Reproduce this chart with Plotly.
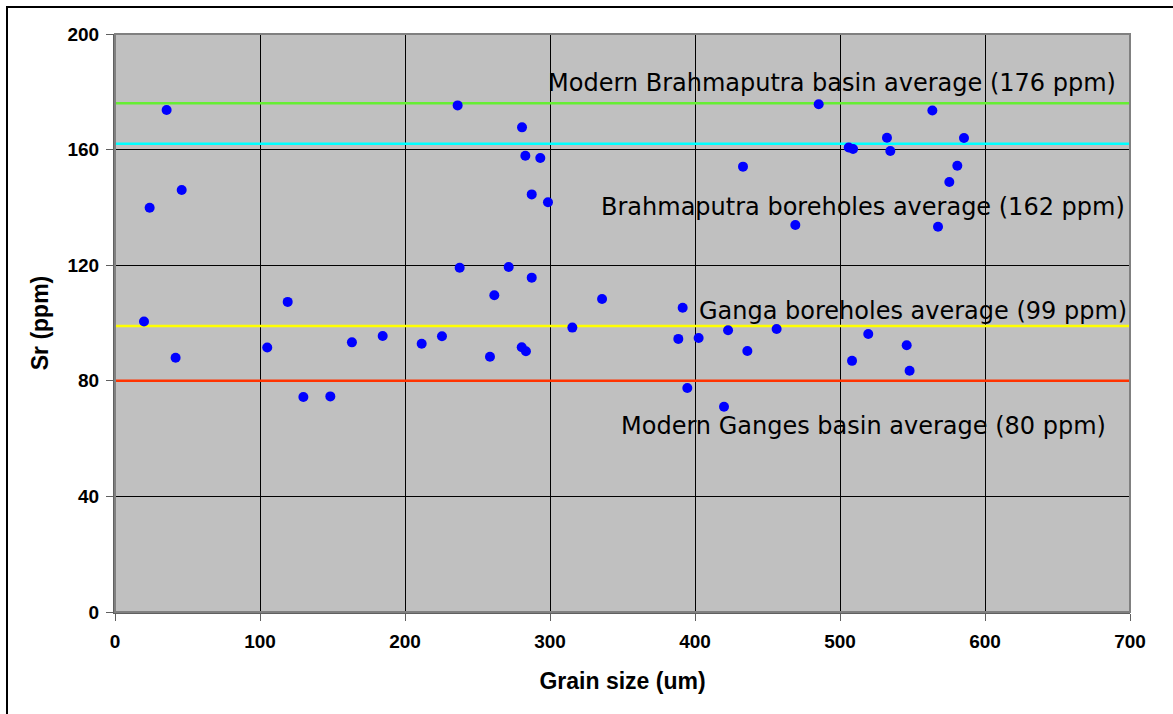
import plotly.graph_objects as go

# Grain size (um) and Sr concentration (ppm) of the samples
grain_size = [35.6, 46.0, 23.9, 20.0, 41.8, 105.0, 119.1, 129.9, 148.5, 163.4,
              184.6, 236.3, 280.7, 283.0, 293.3, 287.4, 298.6, 433.1, 237.7, 271.5,
              287.4, 261.6, 335.9, 211.5, 225.5, 258.6, 280.5, 283.4, 315.4, 391.5,
              388.5, 402.5, 394.7, 420.0, 422.8, 436.1, 456.3, 485.3, 563.7, 532.4,
              585.5, 506.0, 509.0, 534.7, 580.9, 575.4, 469.2, 567.6, 519.5, 546.0,
              508.3, 548.0]
sr_ppm = [173.7, 146.0, 139.9, 100.5, 88.0, 91.5, 107.3, 74.4, 74.6, 93.3,
          95.5, 175.3, 167.7, 157.9, 157.1, 144.5, 141.8, 154.1, 119.1, 119.4,
          115.7, 109.6, 108.3, 92.8, 95.4, 88.3, 91.6, 90.2, 98.4, 105.3,
          94.5, 94.8, 77.5, 71.0, 97.5, 90.3, 97.9, 175.7, 173.5, 164.1,
          164.0, 160.7, 160.2, 159.5, 154.4, 148.8, 133.9, 133.3, 96.2, 92.3,
          86.9, 83.5]

# Reference averages (ppm)
ref_names = ["Modern Brahmaputra basin average (176 ppm)",
             "Brahmaputra boreholes average (162 ppm)",
             "Ganga boreholes average (99 ppm)",
             "Modern Ganges basin average (80 ppm)"]
ref_values = [176, 162, 99, 80]
ref_colors = ["#66EE33", "#00FFFF", "#FFFF00", "#FF3300"]

x_ticks = [0, 100, 200, 300, 400, 500, 600, 700]
y_ticks = [0, 40, 80, 120, 160, 200]

fig = go.Figure()

# Horizontal reference lines spanning the x range
for name, val, col in zip(ref_names, ref_values, ref_colors):
    fig.add_trace(go.Scatter(x=[0, 700], y=[val, val], mode="lines",
                             line=dict(color=col, width=2.5),
                             showlegend=False, hoverinfo="skip"))

fig.add_trace(go.Scatter(x=grain_size, y=sr_ppm, mode="markers",
                         marker=dict(color="#0000FF", size=10, line=dict(width=0)),
                         showlegend=False))

# Text labels next to the reference lines
label_pos = [(692, 183), (698, 140), (699.5, 104), (685, 64.5)]
for name, (lx, ly) in zip(ref_names, label_pos):
    fig.add_annotation(x=lx, y=ly, text=name, showarrow=False, xanchor="right",
                       yanchor="middle",
                       font=dict(family="DejaVu Sans", size=24, color="#000000"))

axis_font = dict(family="Liberation Sans, Arial", size=19, color="#000000")
title_font = dict(family="Liberation Sans, Arial", size=23, color="#000000")
fig.update_xaxes(range=[0, 700], tickvals=x_ticks, ticktext=[f"<b>{v}</b>" for v in x_ticks],
                 tickfont=axis_font, showgrid=True, gridcolor="#000000", gridwidth=1,
                 showline=True, linecolor="#606060", linewidth=2, mirror=False,
                 ticks="outside", ticklen=7, tickcolor="#606060", zeroline=False,
                 ticklabelstandoff=4,
                 title=dict(text="<b>Grain size (um)</b>", font=title_font, standoff=22))
fig.update_yaxes(range=[0, 200], tickvals=y_ticks, ticktext=[f"<b>{v}</b>" for v in y_ticks],
                 tickfont=axis_font, showgrid=True, gridcolor="#000000", gridwidth=1,
                 showline=True, linecolor="#606060", linewidth=2, mirror=False,
                 ticks="outside", ticklen=7, tickcolor="#606060", zeroline=False,
                 ticklabelstandoff=3,
                 title=dict(text="<b>Sr (ppm)</b>", font=title_font, standoff=12))

# Outer frame of the chart and the plot-area border
fig.add_shape(type="rect", xref="paper", yref="paper", x0=0, x1=1, y0=0, y1=1,
              line=dict(color="#808080", width=2), layer="above")
fig.add_shape(type="rect", xref="paper", yref="paper",
              x0=-108 / 1015, x1=1.2, y0=-0.3, y1=1 + 27 / 578,
              line=dict(color="#000000", width=2))

fig.update_layout(width=1173, height=714,
                  margin=dict(l=115, r=43, t=34, b=102),
                  plot_bgcolor="#C0C0C0", paper_bgcolor="#FFFFFF",
                  showlegend=False)

fig.write_html("out.html")
